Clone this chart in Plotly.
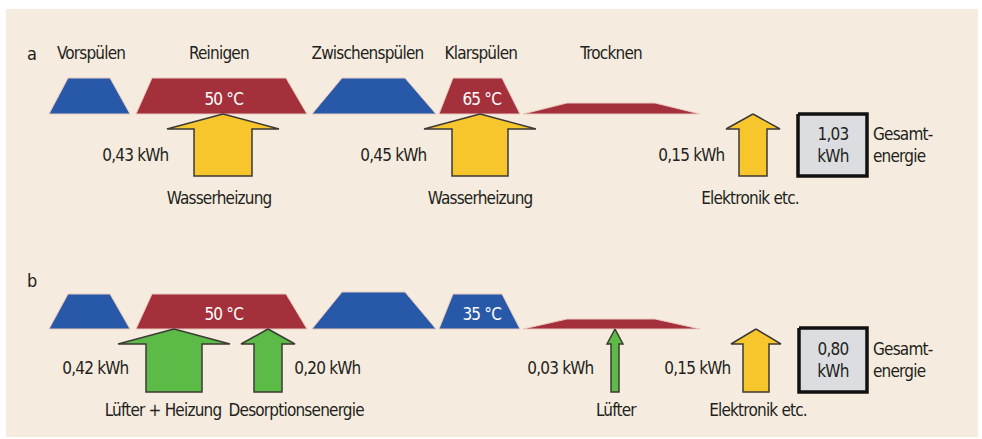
import plotly.graph_objects as go

# ---------------- data ----------------
phase_names = ["Vorspülen", "Reinigen", "Zwischenspülen", "Klarspülen", "Trocknen"]
phase_kind = ["cold", "hot", "cold", "hot", "hot"]           # programme a
phase_kind_b = ["cold", "hot", "cold", "cold", "hot"]        # programme b
temps_a = ["", "50 °C", "", "65 °C", ""]
temps_b = ["", "50 °C", "", "35 °C", ""]

# phase geometry (time axis, px units): bottom start/end, top start/end, height
bot_start = [49, 136, 312, 439, 523]
bot_end = [130, 307, 436, 520, 700]
top_start = [68, 152, 342, 453, 567]
top_end = [110, 286, 405, 502, 655]
height_a = [36, 36, 36, 36, 11]
height_b = [35, 35, 37, 35, 10]
name_x = [91, 219, 367, 481, 610]

# energy inputs
a_energy_vals = ["0,43 kWh", "0,45 kWh", "0,15 kWh"]
a_energy_names = ["Wasserheizung", "Wasserheizung", "Elektronik etc."]
a_energy_kind = ["yellow", "yellow", "yellow"]
a_tip = [223, 480, 753]
a_head_half = [56, 56, 27]
a_shaft_half = [29, 28, 14]
a_val_gap = [-5, -6, -2]
a_name_dx = [-4, 0, -3]

b_energy_vals = ["0,42 kWh", "0,20 kWh", "0,03 kWh", "0,15 kWh"]
b_energy_names = ["Lüfter + Heizung", "Desorptionsenergie", "Lüfter", "Elektronik etc."]
b_energy_kind = ["green", "green", "green", "yellow"]
b_tip = [174, 268, 615, 756]
b_head_half = [56, 27, 8, 25]
b_shaft_half = [28, 14, 4, 13]
b_label_side = ["left", "right", "left", "left"]
b_val_gap = [14, 9, 14, 9]
b_name_dx = [-11, 28, 1, 2]

totals = ["1,03<br>kWh", "0,80<br>kWh"]
total_label = "Gesamt-<br>energie"

# ---------------- style ----------------
COL = {"cold": "#2858A8", "hot": "#A3303A", "yellow": "#F7C52C", "green": "#5CBB47"}
TXT = "#231F20"
FONT = "DejaVu Sans, sans-serif"
FS = 17
LS = 0.8   # css letter-spacing reduction (px per char)

fig = go.Figure()


def poly(xs, ys, fill, line_color=None, lw=0):
    fig.add_trace(go.Scatter(
        x=xs + [xs[0]], y=ys + [ys[0]], mode="lines", fill="toself",
        fillcolor=fill, line=dict(color=line_color or fill, width=lw),
        hoverinfo="skip", showlegend=False))


def text(x, y, s, size=FS, color=TXT, anchor="center", align="center"):
    n = max(len(p) for p in s.split("<br>"))
    shift = 0
    if anchor == "right":
        shift = n * LS / 2 + 3
    elif anchor == "left" and align == "center":
        shift = -(n * LS / 2 + 3)
    elif anchor == "left":
        shift = -3
    fig.add_annotation(x=x, y=y, text=s, showarrow=False, xanchor=anchor, xshift=shift,
                       align=align, yanchor="middle",
                       font=dict(family=FONT, size=size, color=color))


def draw_programme(base, heights, kinds, temps, label, label_y, names=True):
    text(31, label_y, label, size=18)
    for i in range(len(phase_names)):
        top = base - heights[i]
        poly([bot_start[i], top_start[i], top_end[i], bot_end[i]],
             [base, top, top, base], COL[kinds[i]], "#E9C9C0", 1)
        if temps[i]:
            text((bot_start[i] + bot_end[i]) / 2 + 2, base - 15, temps[i], color="white")
        if names:
            text(name_x[i], 53, phase_names[i])


def arrow(tip, hh, sh, base, kind, bottom):
    yb = base + 15
    poly([tip, tip + hh, tip + sh, tip + sh, tip - sh, tip - sh, tip - hh],
         [base, yb, yb, bottom, bottom, yb, yb], COL[kind], "#3C3A36", 1.5)


def total_box(x0, x1, y0, y1, s, label_x):
    poly([x0, x1, x1, x0], [y0, y0, y1, y1], "#DCDDE1", "#111111", 3.5)
    text((x0 + x1) / 2, (y0 + y1) / 2, s)
    text(label_x, (y0 + y1) / 2, total_label, anchor="left", align="left")


# ---- programme a ----
base_a = 114
draw_programme(base_a, height_a, phase_kind, temps_a, "a", 53)
for i in range(3):
    arrow(a_tip[i], a_head_half[i], a_shaft_half[i], base_a, a_energy_kind[i], 176)
    text(a_tip[i] - a_head_half[i] - a_val_gap[i], 155, a_energy_vals[i], anchor="right")
    text(a_tip[i] + a_name_dx[i], 198, a_energy_names[i])
total_box(798, 867, 114, 176, totals[0], 874)

# ---- programme b ----
base_b = 329
draw_programme(base_b, height_b, phase_kind_b, temps_b, "b", 280, names=False)
for i in range(4):
    arrow(b_tip[i], b_head_half[i], b_shaft_half[i], base_b, b_energy_kind[i], 392)
    if b_label_side[i] == "left":
        text(b_tip[i] - b_shaft_half[i] - b_val_gap[i], 368, b_energy_vals[i], anchor="right")
    else:
        text(b_tip[i] + b_shaft_half[i] + b_val_gap[i], 368, b_energy_vals[i], anchor="left")
    text(b_tip[i] + b_name_dx[i], 410, b_energy_names[i])
total_box(799, 867, 328, 392, totals[1], 874)

fig.update_layout(
    width=982, height=439, margin=dict(l=0, r=0, t=0, b=0),
    paper_bgcolor="white", plot_bgcolor="white",
    xaxis=dict(range=[0, 982], visible=False, fixedrange=True),
    yaxis=dict(range=[439, 0], visible=False, fixedrange=True),
    shapes=[dict(type="rect", xref="x", yref="y", x0=6, x1=978, y0=9, y1=437,
                 fillcolor="#F5ECDF", line=dict(width=0), layer="below")],
)

post = """
document.body.style.margin='0';
var st=document.createElement('style');
st.textContent='svg text{font-stretch:condensed !important;letter-spacing:-0.8px;}';
document.head.appendChild(st);
"""
fig.write_html("out.html", post_script=post, config={"displayModeBar": False})
